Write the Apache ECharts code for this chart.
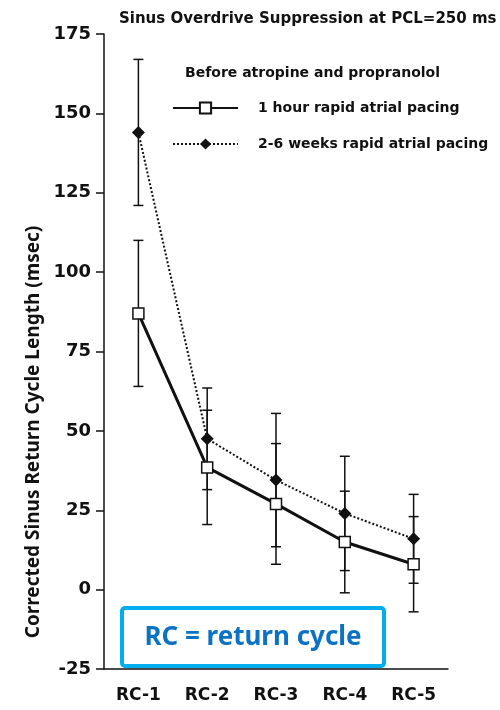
<!DOCTYPE html>
<html>
<head>
<meta charset="utf-8">
<script src="https://cdn.jsdelivr.net/npm/echarts@6/dist/echarts.min.js"></script>
<style>
  html, body { margin: 0; padding: 0; background: #fff; }
  #chart { width: 500px; height: 710px; }
</style>
</head>
<body>
<div id="chart"></div>
<script>
// return cycles after pacing stops
const categories = ['RC-1', 'RC-2', 'RC-3', 'RC-4', 'RC-5'];
const yTicks = [-25, 0, 25, 50, 75, 100, 125, 150, 175];

// mean corrected return cycle length (msec) and SD
const oneHourMean = [87, 38.5, 27, 15, 8];
const oneHourSD = [23, 18, 19, 16, 15];
const weeksMean = [144, 47.5, 34.5, 24, 16];
const weeksSD = [23, 16, 21, 18, 14];

const oneHourName = '1 hour rapid atrial pacing';
const weeksName = '2-6 weeks rapid atrial pacing';

const pixelFont = 'DejaVu Sans';

function errorRows(mean, sd) {
  return mean.map((m, i) => [i, m - sd[i], m + sd[i]]);
}

function renderErrorBar(params, api) {
  const lo = api.coord([api.value(0), api.value(1)]);
  const hi = api.coord([api.value(0), api.value(2)]);
  const half = 5;
  const style = { stroke: '#111', lineWidth: 1.5 };
  return {
    type: 'group',
    children: [
      { type: 'line', shape: { x1: lo[0], y1: lo[1], x2: hi[0], y2: hi[1] }, style },
      { type: 'line', shape: { x1: lo[0] - half, y1: lo[1], x2: lo[0] + half, y2: lo[1] }, style },
      { type: 'line', shape: { x1: hi[0] - half, y1: hi[1], x2: hi[0] + half, y2: hi[1] }, style }
    ]
  };
}

const chart = echarts.init(document.getElementById('chart'));

chart.setOption({
  animation: false,
  backgroundColor: '#fff',
  title: [
    {
      text: 'Sinus Overdrive Suppression at PCL=250 ms',
      left: 114,
      top: 7,
      textStyle: { fontFamily: pixelFont, fontWeight: 'bold', fontSize: 15, color: '#111' }
    },
    {
      text: 'Before atropine and propranolol',
      left: 180,
      top: 61,
      textStyle: { fontFamily: pixelFont, fontWeight: 'bold', fontSize: 14, color: '#111' }
    }
  ],
  legend: {
    data: [oneHourName, weeksName],
    orient: 'vertical',
    left: 167,
    top: 96,
    itemWidth: 65,
    itemHeight: 14,
    itemGap: 22,
    textStyle: {
      fontFamily: pixelFont, fontWeight: 'bold', fontSize: 14, color: '#111',
      padding: [0, 0, 0, 15]
    }
  },
  grid: {
    left: 104,
    right: 52,
    top: 34,
    bottom: 41,
    outerBoundsMode: 'none'
  },
  xAxis: {
    type: 'category',
    data: categories,
    boundaryGap: true,
    axisLine: { onZero: false, lineStyle: { color: '#111', width: 1.5 } },
    axisTick: { alignWithLabel: true, length: 8, lineStyle: { color: '#111', width: 1.5 } },
    axisLabel: { fontFamily: pixelFont, fontWeight: 'bold', fontSize: 17, color: '#111', margin: 18 }
  },
  yAxis: {
    type: 'value',
    min: yTicks[0],
    max: yTicks[yTicks.length - 1],
    interval: 25,
    axisLine: { show: true, lineStyle: { color: '#111', width: 1.5 } },
    axisTick: { show: true, length: 8, lineStyle: { color: '#111', width: 1.5 } },
    splitLine: { show: false },
    axisLabel: { fontFamily: pixelFont, fontWeight: 'bold', fontSize: 18, color: '#111', margin: 13 }
  },
  graphic: [
    {
      type: 'text',
      x: 34,
      y: 432,
      rotation: Math.PI / 2,
      style: {
        text: 'Corrected Sinus Return Cycle Length (msec)',
        font: 'bold 19px "Noto Sans"',
        fill: '#111',
        align: 'center',
        verticalAlign: 'middle'
      }
    },
    {
      type: 'rect',
      shape: { x: 122, y: 608, width: 262, height: 58, r: 3 },
      style: { fill: '#fff', stroke: '#00AEEF', lineWidth: 4 },
      z: 100
    },
    {
      type: 'text',
      x: 253,
      y: 638,
      style: {
        text: 'RC = return cycle',
        font: 'bold 26px "Noto Sans"',
        fill: '#0B72C4',
        align: 'center',
        verticalAlign: 'middle'
      },
      z: 101
    }
  ],
  series: [
    {
      type: 'custom',
      name: 'sd-1h',
      renderItem: renderErrorBar,
      data: errorRows(oneHourMean, oneHourSD),
      encode: { x: 0, y: [1, 2] },
      z: 1,
      silent: true
    },
    {
      type: 'custom',
      name: 'sd-weeks',
      renderItem: renderErrorBar,
      data: errorRows(weeksMean, weeksSD),
      encode: { x: 0, y: [1, 2] },
      z: 1,
      silent: true
    },
    {
      name: weeksName,
      type: 'line',
      data: weeksMean,
      symbol: 'diamond',
      symbolSize: [13, 13],
      lineStyle: { color: '#111', width: 2, type: [2, 2] },
      itemStyle: { color: '#111' },
      z: 3
    },
    {
      name: oneHourName,
      type: 'line',
      data: oneHourMean,
      symbol: 'rect',
      symbolSize: 11,
      lineStyle: { color: '#111', width: 3 },
      itemStyle: { color: '#fff', borderColor: '#111', borderWidth: 1.5 },
      z: 4
    }
  ]
});
</script>
</body>
</html>
